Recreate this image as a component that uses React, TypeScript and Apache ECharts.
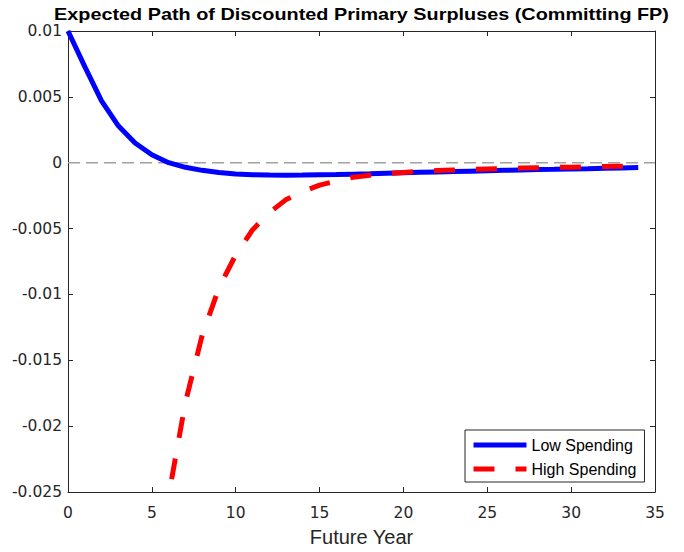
import React, { useEffect, useRef } from "react";
import * as echarts from "echarts";

const years: number[] = Array.from({ length: 35 }, (_, i) => i);
const lowSpending: number[] = [
  0.01, 0.0073, 0.0047, 0.0028, 0.0015, 0.0006, 0.0, -0.00035, -0.00058, -0.00074,
  -0.00085, -0.00091, -0.00094, -0.00095, -0.00094, -0.00092, -0.0009, -0.00087, -0.00084, -0.0008,
  -0.00076, -0.00073, -0.0007, -0.00067, -0.00064, -0.00061, -0.00058, -0.00055, -0.00052, -0.0005,
  -0.00047, -0.00045, -0.00042, -0.0004, -0.00037,
];
const highSpending: number[] = [
  -0.18, -0.13, -0.094, -0.068, -0.049, -0.035, -0.0253, -0.0182, -0.0131, -0.0095,
  -0.007, -0.0051, -0.0038, -0.0028, -0.0022, -0.0017, -0.0014, -0.0011, -0.00095, -0.00083,
  -0.00074, -0.00066, -0.0006, -0.00055, -0.0005, -0.00047, -0.00044, -0.00041, -0.00038, -0.00036,
  -0.00034, -0.00031, -0.00029, -0.00027, -0.00025,
];
const xTicks = { min: 0, max: 35, interval: 5 };
const yTicks = { min: -0.025, max: 0.01, interval: 0.005 };
const titleText = "Expected Path of Discounted Primary Surpluses (Committing FP)";

const FONT = "'Liberation Sans', Arial, Helvetica, sans-serif";
const TICK_FONT = "'DejaVu Sans', 'Liberation Sans', sans-serif";
const AXIS_COLOR = "#262626";

export default function App() {
  const ref = useRef<HTMLDivElement>(null);
  useEffect(() => {
    if (!ref.current) return;
    const chart = echarts.init(ref.current, null, { renderer: "svg" });
    const axisCommon = {
      axisLine: { show: true, onZero: false, lineStyle: { color: AXIS_COLOR, width: 1 } },
      axisTick: { show: true, inside: true, length: 5, lineStyle: { color: AXIS_COLOR } },
      splitLine: { show: false },
    };
    chart.setOption({
      animation: false,
      backgroundColor: "#ffffff",
      textStyle: { fontFamily: FONT },
      graphic: [
        {
          type: "text",
          x: 361.5,
          y: 15,
          scaleX: 1.24,
          style: {
            text: titleText,
            fontFamily: FONT,
            fontSize: 16,
            fontWeight: "bold",
            fill: "#000",
            align: "center",
            verticalAlign: "middle",
          },
        },
      ],
      grid: { left: 68, right: 29, top: 31, bottom: 58, containLabel: false },
      legend: {
        data: ["Low Spending", "High Spending"],
        orient: "vertical",
        left: 465,
        top: 430,
        padding: [7, 8, 5, 6],
        itemWidth: 53,
        itemHeight: 14,
        itemGap: 8,
        itemTextGap: 5,
        borderColor: AXIS_COLOR,
        borderWidth: 1,
        backgroundColor: "#fff",
        itemStyle: { opacity: 0 },
        lineStyle: { width: 5 },
        textStyle: { fontFamily: FONT, fontSize: 16, color: "#000" },
      },
      xAxis: [
        {
          type: "value",
          ...xTicks,
          ...axisCommon,
          position: "bottom",
          axisLabel: { fontFamily: TICK_FONT, fontSize: 15.5, color: AXIS_COLOR, margin: 13 },
          name: "Future Year",
          nameLocation: "middle",
          nameGap: 35,
          nameTextStyle: { fontFamily: FONT, fontSize: 20, color: AXIS_COLOR },
        },
        {
          type: "value",
          ...xTicks,
          ...axisCommon,
          position: "top",
          axisLabel: { show: false },
        },
      ],
      yAxis: [
        {
          type: "value",
          ...yTicks,
          ...axisCommon,
          position: "left",
          axisLabel: {
            fontFamily: TICK_FONT,
            fontSize: 15.5,
            color: AXIS_COLOR,
            margin: 6,
            formatter: (v: number) => String(parseFloat(v.toFixed(4))),
          },
        },
        {
          type: "value",
          ...yTicks,
          ...axisCommon,
          position: "right",
          axisLabel: { show: false },
        },
      ],
      series: [
        {
          name: "zero",
          type: "line",
          data: [[0, 0], [35, 0]],
          symbol: "none",
          silent: true,
          lineStyle: { color: "#a0a0a0", width: 1.5, type: [12, 6] },
          z: 1,
        },
        {
          name: "Low Spending",
          type: "line",
          data: years.map((x, i) => [x, lowSpending[i]]),
          symbol: "none",
          lineStyle: { color: "#0000ff", width: 5 },
          itemStyle: { color: "#0000ff" },
          z: 2,
        },
        {
          name: "High Spending",
          type: "line",
          data: years.map((x, i) => [x, highSpending[i]]),
          symbol: "none",
          lineStyle: { color: "#ff0000", width: 5, type: [21, 21] },
          itemStyle: { color: "#ff0000" },
          z: 3,
        },
      ],
    });
    return () => chart.dispose();
  }, []);
  return <div ref={ref} style={{ width: 684, height: 552, margin: -8 }} />;
}
